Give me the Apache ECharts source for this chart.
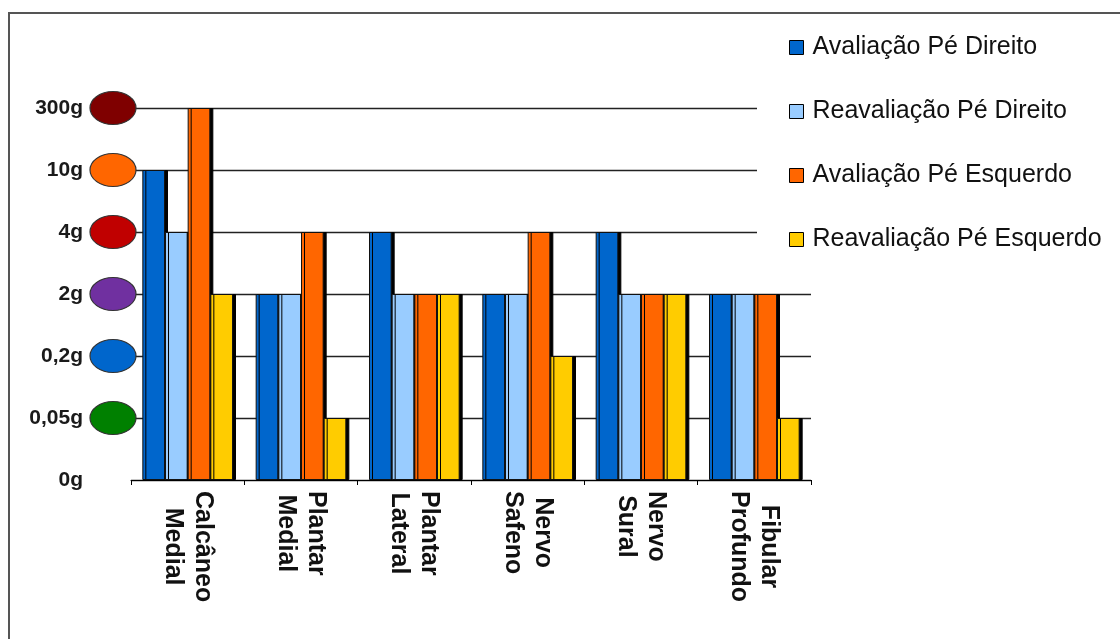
<!DOCTYPE html>
<html>
<head>
<meta charset="utf-8">
<script src="https://cdn.jsdelivr.net/npm/echarts@6/dist/echarts.min.js"></script>
<style>
  html, body { margin: 0; padding: 0; background: #fff; overflow: hidden; width: 1120px; height: 639px; }
  #frame { position: absolute; left: 8px; top: 12px; width: 1300px; height: 800px; border: 2px solid #555; box-sizing: border-box; }
  #chart { position: absolute; left: 0; top: 0; width: 1120px; height: 639px; }
</style>
</head>
<body>
<div id="frame"></div>
<div id="chart"></div>
<script>
// ---- data ----
const categories = ['Calcâneo\nMedial', 'Plantar\nMedial', 'Plantar\nLateral', 'Nervo\nSafeno', 'Nervo\nSural', 'Fibular\nProfundo'];
const levelLabels = ['0g', '0,05g', '0,2g', '2g', '4g', '10g', '300g'];
const levelColors = [null, '#008000', '#0066CC', '#7030A0', '#C00000', '#FF6600', '#7F0000'];
const seriesNames = ['Avaliação Pé Direito', 'Reavaliação Pé Direito', 'Avaliação Pé Esquerdo', 'Reavaliação Pé Esquerdo'];
const avaliacaoDireito = ['10g', '2g', '4g', '2g', '4g', '2g'];
const reavaliacaoDireito = ['4g', '2g', '2g', '2g', '2g', '2g'];
const avaliacaoEsquerdo = ['300g', '4g', '2g', '4g', '2g', '2g'];
const reavaliacaoEsquerdo = ['2g', '0,05g', '2g', '0,2g', '2g', '0,05g'];
const seriesColors = ['#0066CC', '#99CCFF', '#FF6600', '#FFCC00'];

const toLevel = arr => arr.map(s => levelLabels.indexOf(s));
const seriesData = [avaliacaoDireito, reavaliacaoDireito, avaliacaoEsquerdo, reavaliacaoEsquerdo].map(toLevel);

const chart = echarts.init(document.getElementById('chart'), null, { renderer: 'canvas' });

const barSeries = seriesNames.map((name, i) => ({
  name: name,
  type: 'bar',
  xAxisIndex: 0,
  yAxisIndex: 0,
  data: seriesData[i],
  barGap: '0%',
  barCategoryGap: '20%',
  itemStyle: {
    color: seriesColors[i],
    borderColor: '#111',
    borderWidth: 1,
    shadowColor: '#000',
    shadowBlur: 0,
    shadowOffsetX: 3,
    shadowOffsetY: 0
  },
  emphasis: { disabled: true }
}));

const ellipseData = [];
levelLabels.forEach((l, idx) => {
  if (levelColors[idx]) {
    ellipseData.push({ value: [0.5, idx], itemStyle: { color: levelColors[idx] } });
  }
});

chart.setOption({
  animation: false,
  backgroundColor: 'transparent',
  textStyle: { fontFamily: 'Liberation Sans, Arial, sans-serif' },
  grid: [
    { left: 131, right: 309, top: 108, bottom: 159 },
    { left: 90, width: 46, top: 108, bottom: 159 }
  ],
  legend: {
    orient: 'vertical',
    left: 757,
    top: 25,
    padding: [10, 10, 20, 32],
    backgroundColor: '#fff',
    itemWidth: 14,
    itemHeight: 14,
    itemGap: 39,
    icon: 'rect',
    data: seriesNames,
    itemStyle: { borderColor: '#000', borderWidth: 1, shadowOffsetX: 0, shadowColor: 'transparent' },
    textStyle: {
      fontFamily: 'Liberation Sans, Arial, sans-serif',
      fontSize: 25,
      lineHeight: 25,
      color: '#111',
      padding: [0, 0, 0, 4]
    },
    selectedMode: false
  },
  xAxis: [
    {
      type: 'category',
      gridIndex: 0,
      data: categories,
      axisLine: { show: true, lineStyle: { color: '#000', width: 1 } },
      axisTick: { show: true, length: 5, lineStyle: { color: '#000' } },
      axisLabel: {
        rotate: -90,
        margin: 11,
        interval: 0,
        formatter: v => v.split('\n').map(s => '{c|' + s + '}').join('\n'),
        rich: {
          c: {
            fontFamily: 'Liberation Sans, Arial, sans-serif',
            fontSize: 25,
            fontWeight: 'bold',
            lineHeight: 30,
            color: '#111',
            align: 'center'
          }
        }
      },
      splitLine: { show: false }
    },
    { type: 'value', gridIndex: 1, min: 0, max: 1, show: false }
  ],
  yAxis: [
    {
      type: 'value',
      gridIndex: 0,
      min: 0,
      max: 6,
      interval: 1,
      axisLine: { show: false },
      axisTick: { show: false },
      axisLabel: {
        margin: 48,
        fontFamily: 'Liberation Sans, Arial, sans-serif',
        fontSize: 21,
        fontWeight: 'bold',
        color: '#1a1a1a',
        formatter: v => levelLabels[v]
      },
      splitLine: { show: true, lineStyle: { color: '#222', width: 1.3 } }
    },
    { type: 'value', gridIndex: 1, min: 0, max: 6, show: false }
  ],
  series: barSeries.concat([{
    type: 'scatter',
    xAxisIndex: 1,
    yAxisIndex: 1,
    symbol: 'circle',
    symbolSize: [46, 33],
    clip: false,
    z: 5,
    data: ellipseData,
    itemStyle: { borderColor: '#333', borderWidth: 1, opacity: 1 },
    emphasis: { disabled: true }
  }])
});
</script>
</body>
</html>
